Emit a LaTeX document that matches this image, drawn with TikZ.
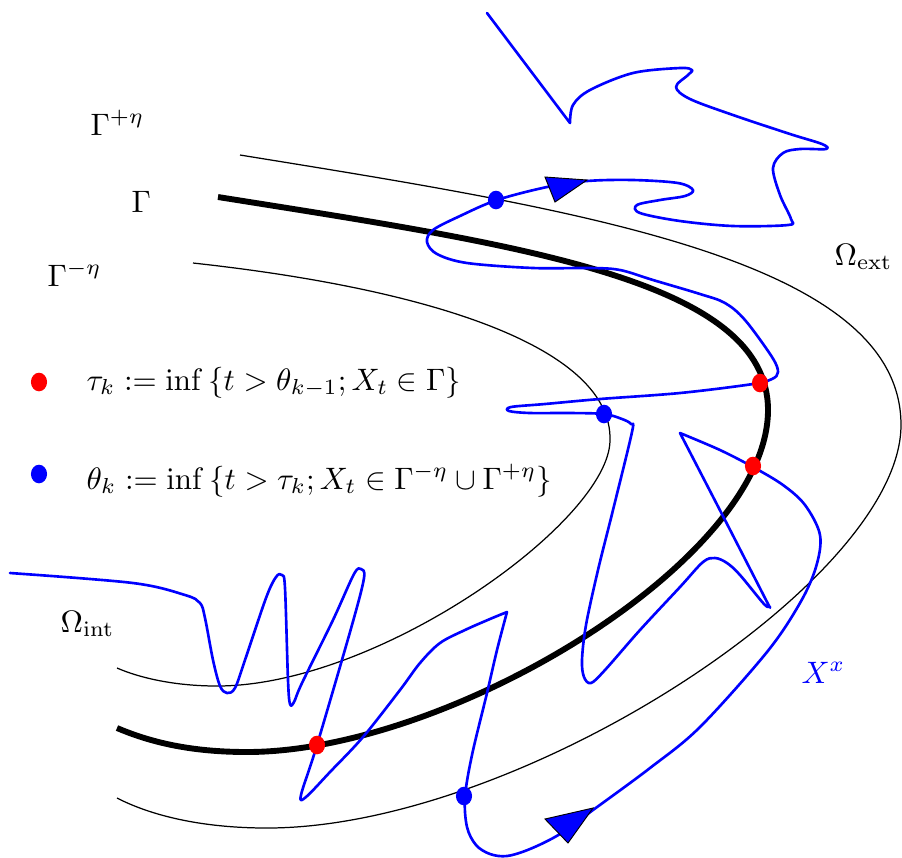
\documentclass[tikz,border=0pt]{standalone}
\usetikzlibrary{shapes.geometric}
\begin{document}
\begin{tikzpicture}[x=0.3226pt,y=-0.3226pt,
  thinline/.style={line width=0.4pt},
  gammaline/.style={line width=1.9pt},
  bluepath/.style={blue, line width=0.85pt, line join=round, line cap=round},
  dotshape/.style={ellipse, inner sep=0pt, minimum width=5.2pt, minimum height=6pt, draw=none},
  reddot/.style={dotshape, fill=red},
  bluedot/.style={dotshape, fill=blue},
  arrowtri/.style={fill=blue, draw=black, line width=0.3pt, line join=miter},
  lbl/.style={anchor=base west, inner sep=0pt}]
\useasboundingbox (0,0) rectangle (902,857);

% curves Gamma^{+eta}, Gamma, Gamma^{-eta}
\draw[thinline] (240,155) .. controls (580,210) and (901,260) .. (901,425)
  .. controls (901,580) and (520,828) .. (267,828)
  .. controls (200,828) and (150,815) .. (117,798);
\draw[gammaline] (218,197) .. controls (520,245) and (768,280) .. (768,410)
  .. controls (768,560) and (450,752) .. (247,752)
  .. controls (190,752) and (150,742) .. (117,728);
\draw[thinline] (193,263) .. controls (440,290) and (612,350) .. (610,440)
  .. controls (610,520) and (380,686) .. (217,686)
  .. controls (175,686) and (140,678) .. (117,668);

% the path X^x
\draw[bluepath] plot[smooth, tension=0.55] coordinates {
  (10,573) (133,583) (185,595) (200,603) (205,618) (213,660) (220,686) (227,693)
  (235,688) (245,660) (266,598) (276,577) (282,575) (285,588) (288,680) (290,704)
  (294,702) (302,683) (333,620) (354,574) (361,569) (364,578) (352,625) (317,745)
  (301,795) (306,797) (330,772) (363,737) (400,690) (420,663) (440,643) (465,630)
  (490,619) (507,612)}
  -- plot[smooth, tension=0.55] coordinates {
  (507,612) (497,650) (487,693) (472,755) (465,797) (467,827) (476,845) (490,854)
  (507,856) (530,849) (560,834) (593,810) (650,768) (700,727) (767,652) (800,603)
  (816,567) (820,535) (805,505) (783,485) (753,467) (720,450) (680,433)}
  -- plot[smooth, tension=0.55] coordinates {
  (680,433) (725,520) (766,600) (769,606) (764,604) (740,575) (727,563) (715,558)
  (703,562) (680,587) (640,630) (605,670) (591,683) (584,677) (582,660) (586,625)
  (598,570) (613,510) (632,432) (631,424) (622,419) (604,414) (570,413) (530,413)
  (509,411) (511,407) (545,404) (600,399) (680,393) (753,384) (772,379) (778,372)
  (772,357) (745,320) (725,303) (700,294) (653,280) (620,270) (590,268) (533,268)
  (467,263) (437,254) (427,242) (433,230) (460,216) (497,200) (547,187) (587,181)
  (633,180) (678,183) (693,190) (685,196) (660,200) (637,205) (640,213) (680,221)
  (733,226) (788,225) (791,219) (780,195) (773,168) (783,153) (800,149) (826,149)
  (822,144) (790,134) (733,115) (690,99) (676,87) (688,75) (692,70) (680,68)
  (633,73) (590,90) (573,105) (570,123)}
  -- (487,13);

% arrow heads
\filldraw[arrowtri] (587,180) -- (545,177) -- (555,202) -- cycle;
\filldraw[arrowtri] (593,808) -- (545,819) -- (568,843) -- cycle;

% hitting points
\node[reddot] (r1) at (760,383) {};
\node[reddot] (r2) at (753,466) {};
\node[reddot] (r3) at (317,745) {};
\node[bluedot] (b1) at (604,414) {};
\node[bluedot] (b2) at (496,200) {};
\node[bluedot] (b3) at (464,796) {};

% labels
\node[lbl] (gp) at (90,135) {$\Gamma^{+\eta}$};
\node[lbl] (g) at (131,212) {$\Gamma$};
\node[lbl] (gm) at (47,286) {$\Gamma^{-\eta}$};
\node[lbl] (oext) at (834,265) {$\Omega_{\mathrm{ext}}$};
\node[lbl] (oint) at (60,632) {$\Omega_{\mathrm{int}}$};
\node[lbl, text=blue] (xx) at (801,683) {$X^x$};

% legend
\node[reddot] (lr) at (39,382) {};
\node[bluedot] (lb) at (39,474) {};
\node[lbl] (tau) at (86,390) {$\tau_k := \inf \left\{ t > \theta_{k-1}; X_t \in \Gamma \right\}$};
\node[lbl] (theta) at (86,489) {$\theta_k := \inf \left\{ t > \tau_k; X_t \in \Gamma^{-\eta} \cup \Gamma^{+\eta} \right\}$};
\end{tikzpicture}
\end{document}
